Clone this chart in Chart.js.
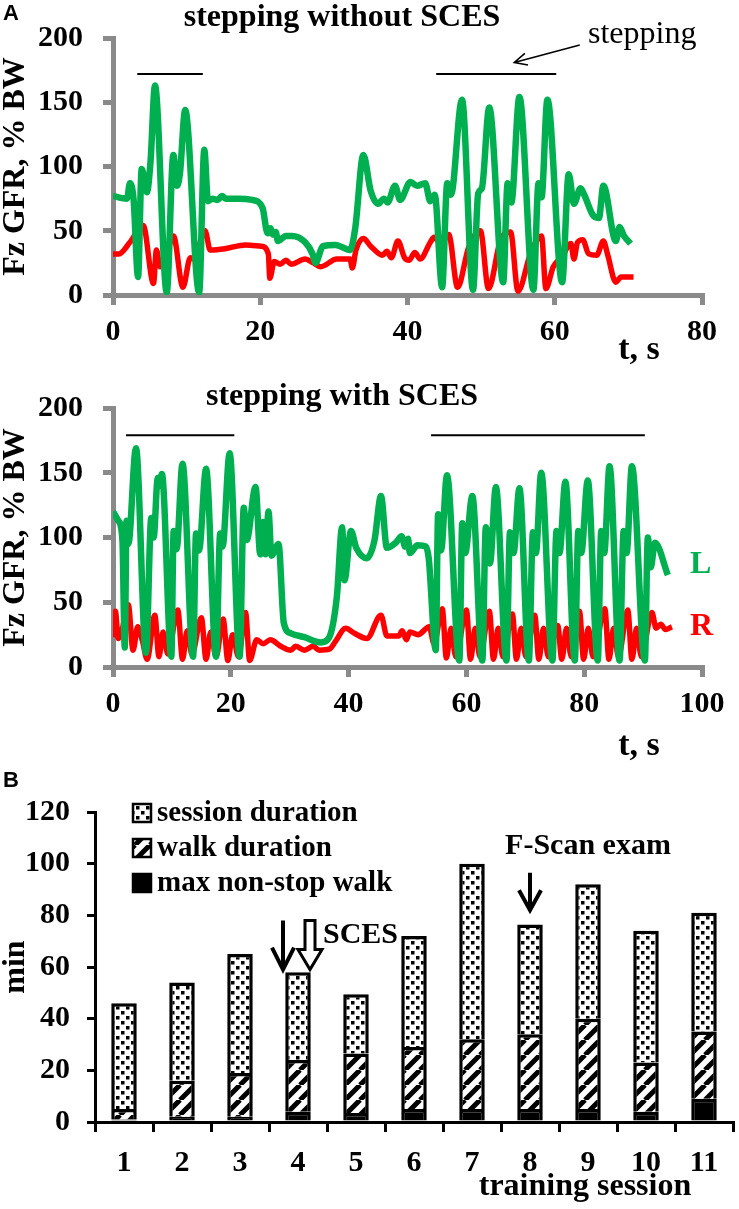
<!DOCTYPE html>
<html>
<head>
<meta charset="utf-8">
<title>Fz GFR stepping and training sessions</title>
<script src="https://cdn.jsdelivr.net/npm/chart.js@4.4.0/dist/chart.umd.min.js"></script>
<style>
  body { margin: 0; background: #fff; }
  #wrap { position: relative; width: 739px; height: 1209px; overflow: hidden; }
  canvas { position: absolute; left: 0; }
  .letter { position: absolute; left: 3px; z-index: 2; font: bold 22px "Liberation Sans", Arial, sans-serif; }
</style>
</head>
<body>
<div id="wrap">
  <div class="letter" style="top:0px">A</div>
  <div class="letter" style="top:767px">B</div>
  <canvas id="c1" width="739" height="370" style="top:0px"></canvas>
  <canvas id="c2" width="739" height="400" style="top:370px"></canvas>
  <canvas id="c3" width="739" height="439" style="top:770px"></canvas>
</div>
<script>
"use strict";

// ---- panel A, top: stepping without SCES (t in s, Fz in % BW) ----
const leftT1 = [0,1.9,2.3,2.8,3.4,3.9,4.6,5.1,5.7,7.3,8.2,8.7,9.1,9.8,11.7,12.4,12.9,13.5,14.2,14.8,15.3,17,18.9,20.3,21,21.4,21.7,22.1,22.4,23.5,24.3,26.1,27.1,27.5,28.5,30.2,32.2,32.9,34,35,36,36.8,37.3,38.3,39,40.4,41.3,42.4,43.1,43.7,44.7,45.4,45.9,47.4,48.9,49.6,50.1,51.1,53,53.6,54.1,55.2,57.1,57.8,58.2,59,61,61.9,62.6,63.5,64,65.2,66,66.6,68.3,68.8,69.4,70.3];
const leftF1 = [77,75,87,74,14,98,80,104,163,2,109,85,95,144,2,113,73,75,74,77,75,75,74,68,48,52,47,49,42,46,46,41,32,25,38,39,35,52,109,81,71,75,72,85,74,88,85,87,73,78,6,87,78,152,4,79,83,146,10,87,72,154,4,87,76,152,10,94,71,83,78,62,60,85,42,53,46,40];
const rightT1 = [0,0.8,2.3,4.1,5.5,5.9,6.4,7.0,8.2,9.5,10.5,11.0,12.5,13.2,15.2,18,20.1,21.1,21.3,21.9,22.7,23.5,24.2,26.1,27.2,28.2,30.4,32.2,32.5,33,34,35,36.6,37.2,37.8,38.7,39.6,40.2,41,41.7,43.1,43.6,44.5,45.6,46.8,48.3,49.9,51,52.6,54,55,56.7,58.2,58.8,59.8,61,62.2,62.6,63.1,63.8,64.6,65.7,66.6,67.2,68.3,69,70.7];
const rightF1 = [32,32,41,54,9,35,22,25,46,6,29,28,50,35,36,39,38,32,13,26,24,27,24,28,25,22,28,28,21,35,44,38,31,34,29,42,29,27,33,28,41,45,40,47,6,37,50,5,42,49,3,32,46,5,22,30,40,28,41,43,32,31,42,31,10,14,14];
const stepFrom1 = [3.3, 43.9];
const stepTo1 = [12.2, 60.2];
const stepLevel1 = 172;

// ---- panel A, bottom: stepping with SCES ----
const leftT2 = [0,0.9,1.6,2.0,2.3,2.6,3.9,5.6,6.5,6.9,7.6,7.9,8.3,9.9,10.3,10.8,11.8,13.6,14.1,14.6,15.8,17.5,18.2,18.6,19.8,21.5,22.2,22.7,24.2,25,25.5,25.9,26.4,26.9,28.1,29,30.2,32.5,35.3,36.6,38,38.9,39.3,40.4,41.3,43.1,44.4,45.5,46.5,48,49,49.6,50.1,50.4,51.7,53.1,53.6,54.8,55.2,55.7,56.7,58.8,59.3,59.8,61,62.7,63.3,64,65,66.8,67.4,68,69,70.6,71.3,71.8,72.7,74.6,75.3,75.8,76.8,78.4,79,79.5,80.6,82.3,82.9,83.4,84.3,86,86.7,87.2,88.1,90.3,90.8,91.3,92,94.2];
const leftF2 = [120,113,98,15,113,95,169,11,115,100,146,140,149,8,105,91,157,8,103,90,153,8,103,93,165,8,123,98,139,87,112,87,120,86,95,34,26,23,19,22,54,108,67,105,92,84,98,132,92,96,101,93,99,88,94,93,84,13,118,90,148,5,111,88,132,5,108,80,139,5,104,88,138,5,104,88,150,5,105,88,143,5,105,88,144,5,105,88,155,5,105,88,155,5,100,77,96,71];
const rightT2 = [0,0.4,0.9,1.5,2.6,3.4,4.2,5.0,5.8,7.1,7.8,8.5,9.3,11,11.8,12.6,13.4,15,15.8,16.6,17.5,18.7,19.5,20.3,21.3,22.5,23.2,24.4,25.5,26.7,28.5,30.2,31,32.5,34,35,36.8,37.8,39.5,41,43.1,45.5,46.5,48.5,49.1,49.8,50.4,51.8,53.7,54.5,55.9,56.6,57.4,58.2,60,60.7,61.5,62.3,63.9,64.6,65.4,66.2,67.8,68.5,69.3,70.1,71.6,72.3,73.1,73.9,75.5,76.2,77,77.8,79.2,79.9,80.7,81.5,83.5,84.2,85,85.8,87.4,88.1,88.9,89.7,91.5,92.2,93,93.8,94.9];
const rightF2 = [23,43,22,28,48,13,31,20,6,40,8,27,10,44,6,28,10,38,6,27,8,37,5,25,8,42,5,21,18,21,16,13,16,13,16,13,14,20,30,26,22,40,24,24,28,21,27,25,31,18,45,7,30,8,44,6,30,8,43,6,30,8,41,6,30,8,40,6,30,8,32,6,30,8,43,6,30,8,45,6,30,8,44,6,30,8,42,30,33,29,31];
const stepFrom2 = [2.2, 54];
const stepTo2 = [20.6, 90.3];
const stepLevel2 = 179;

// ---- panel B: training sessions (min) ----
const sessions = ['1','2','3','4','5','6','7','8','9','10','11'];
const sessionDuration = [46,54,65,58,49.5,72,100,76.5,92,74,81];
const walkDuration = [5,16,19,24,26.5,29,32,34,40,23,35];
const maxNonStopWalk = [1,2,2,4,3.5,5,5,5,5,4,9];

const GREEN = '#00b050';
const RED = '#ff0000';
const GRAY = '#8a8a8a';
const SERIF = '"Liberation Serif", "Times New Roman", serif';

Chart.defaults.font.family = SERIF;
Chart.defaults.color = '#000';

function pts(t, v) {
	return t.map((x, i) => ({ x: x, y: v[i] }));
}

// horizontal "stepping" bars, broken by a null point
function barPts(from, to, level) {
	const out = [];
	from.forEach((a, i) => {
		if (i) out.push({ x: (to[i - 1] + a) / 2, y: null });
		out.push({ x: a, y: level }, { x: to[i], y: level });
	});
	return out;
}

function drawTexts(ctx, texts) {
	texts.forEach(t => {
		ctx.font = t.font;
		ctx.fillStyle = t.color || '#000';
		ctx.textAlign = t.align || 'center';
		ctx.textBaseline = t.base || 'middle';
		ctx.fillText(t.text, t.x, t.y);
	});
}

function overlay(texts, extra) {
	return {
		id: 'overlay',
		afterDraw(chart) {
			const ctx = chart.ctx;
			ctx.save();
			drawTexts(ctx, texts);
			if (extra) extra(chart, ctx);
			ctx.restore();
		}
	};
}

function traceChart(id, o) {
	return new Chart(document.getElementById(id), {
		type: 'line',
		data: {
			datasets: [
				{ data: pts(o.lT, o.lF), borderColor: GREEN, borderWidth: 6.5, cubicInterpolationMode: 'monotone' },
				{ data: pts(o.rT, o.rF), borderColor: RED, borderWidth: 5.5, cubicInterpolationMode: 'monotone' },
				{ data: barPts(o.sFrom, o.sTo, o.sLevel), borderColor: '#000', borderWidth: 2, spanGaps: false }
			]
		},
		options: {
			responsive: false,
			animation: false,
			layout: { padding: { top: o.top, right: 37, left: 0, bottom: 0 } },
			elements: { point: { radius: 0 }, line: { borderCapStyle: 'butt', borderJoinStyle: 'round' } },
			plugins: { legend: { display: false }, tooltip: { enabled: false } },
			scales: {
				x: {
					type: 'linear', min: 0, max: o.xMax,
					ticks: { stepSize: 20, font: { size: 30, weight: 'bold' }, color: '#000', padding: 9 },
					grid: { drawOnChartArea: false, tickLength: 10, color: GRAY, lineWidth: 5 },
					border: { color: GRAY, width: 5 },
					afterFit: s => { s.height = o.xH; }
				},
				y: {
					min: 0, max: 200,
					ticks: { stepSize: 50, font: { size: 30, weight: 'bold' }, color: '#000', padding: 20 },
					grid: { drawOnChartArea: false, tickLength: 10, color: GRAY, lineWidth: 5 },
					border: { color: GRAY, width: 5 },
					title: { display: true, text: 'Fz GFR, % BW', font: { size: 32, weight: 'bold', lineHeight: 1 }, color: '#000', padding: 0 },
					afterFit: s => { s.width = 113; }
				}
			}
		},
		plugins: [overlay(o.texts, o.extra)]
	});
}

function arrowLine(ctx, x0, y0, x1, y1, head) {
	const a = Math.atan2(y1 - y0, x1 - x0);
	ctx.beginPath();
	ctx.moveTo(x0, y0);
	ctx.lineTo(x1, y1);
	ctx.moveTo(x1 - head * Math.cos(a - 0.45), y1 - head * Math.sin(a - 0.45));
	ctx.lineTo(x1, y1);
	ctx.lineTo(x1 - head * Math.cos(a + 0.45), y1 - head * Math.sin(a + 0.45));
	ctx.stroke();
}

traceChart('c1', {
	lT: leftT1, lF: leftF1, rT: rightT1, rF: rightF1,
	sFrom: stepFrom1, sTo: stepTo1, sLevel: stepLevel1,
	xMax: 80, top: 35, xH: 75,
	texts: [
		{ text: 'stepping without SCES', x: 342, y: 18, font: 'bold 32px ' + SERIF },
		{ text: 'stepping', x: 588, y: 43, font: '32px ' + SERIF, align: 'left', base: 'alphabetic' },
		{ text: 't, s', x: 639, y: 350, font: 'bold 34px ' + SERIF }
	],
	extra: (chart, ctx) => {
		const x = chart.scales.x, y = chart.scales.y;
		ctx.strokeStyle = '#000';
		ctx.lineWidth = 1.6;
		arrowLine(ctx, x.getPixelForValue(63.4), y.getPixelForValue(194.5),
			x.getPixelForValue(54.5), y.getPixelForValue(181), 14);
	}
});

traceChart('c2', {
	lT: leftT2, lF: leftF2, rT: rightT2, rF: rightF2,
	sFrom: stepFrom2, sTo: stepTo2, sLevel: stepLevel2,
	xMax: 100, top: 37, xH: 103,
	texts: [
		{ text: 'stepping with SCES', x: 342, y: 27, font: 'bold 32px ' + SERIF },
		{ text: 't, s', x: 639, y: 376, font: 'bold 34px ' + SERIF },
		{ text: 'L', x: 690, y: 195, font: 'bold 32px ' + SERIF, color: GREEN, align: 'left' },
		{ text: 'R', x: 690, y: 257, font: 'bold 32px ' + SERIF, color: RED, align: 'left' }
	]
});

// ---- fill patterns for panel B ----
function tile(size, paint) {
	const c = document.createElement('canvas');
	c.width = size; c.height = size;
	const g = c.getContext('2d');
	g.fillStyle = '#fff';
	g.fillRect(0, 0, size, size);
	paint(g, size);
	return g.createPattern(c, 'repeat');
}
const dots = tile(10, (g) => {
	g.fillStyle = '#000';
	g.fillRect(1, 1, 3.5, 3.5);
	g.fillRect(6, 6, 3.5, 3.5);
});
const hatch = tile(15, (g, n) => {
	g.strokeStyle = '#000';
	g.lineWidth = 5;
	g.beginPath();
	for (let k = -1; k <= 1; k++) {
		g.moveTo(k * n, n);
		g.lineTo(k * n + n, 0);
	}
	g.stroke();
});

const legendRows = [
	{ label: 'session duration', fill: dots },
	{ label: 'walk duration', fill: hatch },
	{ label: 'max non-stop walk', fill: '#000' }
];

function drawBExtras(chart, ctx) {
	const x = chart.scales.x, y = chart.scales.y;
	const left = chart.chartArea.left;

	// legend
	ctx.font = 'bold 29px ' + SERIF;
	ctx.textAlign = 'left';
	ctx.textBaseline = 'middle';
	legendRows.forEach((r, i) => {
		const cy = chart.chartArea.top + 1 + i * 35;
		ctx.fillStyle = r.fill;
		ctx.fillRect(left + 38, cy - 9, 18, 18);
		ctx.strokeStyle = '#000';
		ctx.lineWidth = 2.5;
		ctx.strokeRect(left + 38, cy - 9, 18, 18);
		ctx.fillStyle = '#000';
		ctx.fillText(r.label, left + 62, cy + 1);
	});

	ctx.strokeStyle = '#000';
	ctx.fillStyle = '#000';

	// solid arrow before session 4
	const c4 = x.getPixelForValue(3);
	const top4 = y.getPixelForValue(78), tip4 = y.getPixelForValue(59);
	ctx.lineWidth = 4;
	ctx.lineJoin = 'miter';
	ctx.beginPath();
	ctx.moveTo(c4 - 15, top4);
	ctx.lineTo(c4 - 15, tip4 - 3);
	ctx.moveTo(c4 - 26, tip4 - 22);
	ctx.lineTo(c4 - 15, tip4);
	ctx.lineTo(c4 - 4, tip4 - 22);
	ctx.stroke();

	// hollow arrow marking SCES
	const hx = c4 + 12;
	ctx.lineWidth = 3;
	ctx.beginPath();
	ctx.moveTo(hx - 5, top4);
	ctx.lineTo(hx + 5, top4);
	ctx.lineTo(hx + 5, tip4 - 20);
	ctx.lineTo(hx + 12, tip4 - 20);
	ctx.lineTo(hx, tip4);
	ctx.lineTo(hx - 12, tip4 - 20);
	ctx.lineTo(hx - 5, tip4 - 20);
	ctx.closePath();
	ctx.stroke();

	// solid arrow above session 8
	const c8 = x.getPixelForValue(7);
	const top8 = y.getPixelForValue(96.5), tip8 = y.getPixelForValue(82);
	ctx.lineWidth = 4;
	ctx.beginPath();
	ctx.moveTo(c8, top8);
	ctx.lineTo(c8, tip8 - 3);
	ctx.moveTo(c8 - 11, tip8 - 20);
	ctx.lineTo(c8, tip8);
	ctx.lineTo(c8 + 11, tip8 - 20);
	ctx.stroke();
}

new Chart(document.getElementById('c3'), {
	type: 'bar',
	data: {
		labels: sessions,
		datasets: [
			{ label: 'max non-stop walk', data: maxNonStopWalk, backgroundColor: '#000' },
			{ label: 'walk duration', data: walkDuration.map((w, i) => w - maxNonStopWalk[i]), backgroundColor: hatch },
			{ label: 'session duration', data: sessionDuration.map((s, i) => s - walkDuration[i]), backgroundColor: dots }
		]
	},
	options: {
		responsive: false,
		animation: false,
		layout: { padding: { top: 42, right: 6, left: 0, bottom: 0 } },
		datasets: { bar: { borderColor: '#000', borderWidth: 3.5, barPercentage: 0.44, categoryPercentage: 1 } },
		plugins: { legend: { display: false }, tooltip: { enabled: false } },
		scales: {
			x: {
				stacked: true,
				ticks: { font: { size: 30, weight: 'bold' }, color: '#000', padding: 13 },
				grid: { offset: true, drawOnChartArea: false, tickLength: 10, color: '#000', lineWidth: 3 },
				border: { color: '#000', width: 3 },
				afterFit: s => { s.height = 87; }
			},
			y: {
				stacked: true, min: 0, max: 120,
				ticks: { stepSize: 20, font: { size: 30, weight: 'bold' }, color: '#000', padding: 17 },
				grid: { drawOnChartArea: false, tickLength: 8, color: '#000', lineWidth: 3 },
				border: { color: '#000', width: 3 },
				title: { display: true, text: 'min', font: { size: 32, weight: 'bold', lineHeight: 1 }, color: '#000', padding: 0 },
				afterFit: s => { s.width = 95; }
			}
		}
	},
	plugins: [overlay([
		{ text: 'training session', x: 585, y: 417, font: 'bold 32px ' + SERIF },
		{ text: 'F-Scan exam', x: 588, y: 76, font: 'bold 30px ' + SERIF },
		{ text: 'SCES', x: 323, y: 165, font: 'bold 30px ' + SERIF, align: 'left' }
	], drawBExtras)]
});
</script>
</body>
</html>
